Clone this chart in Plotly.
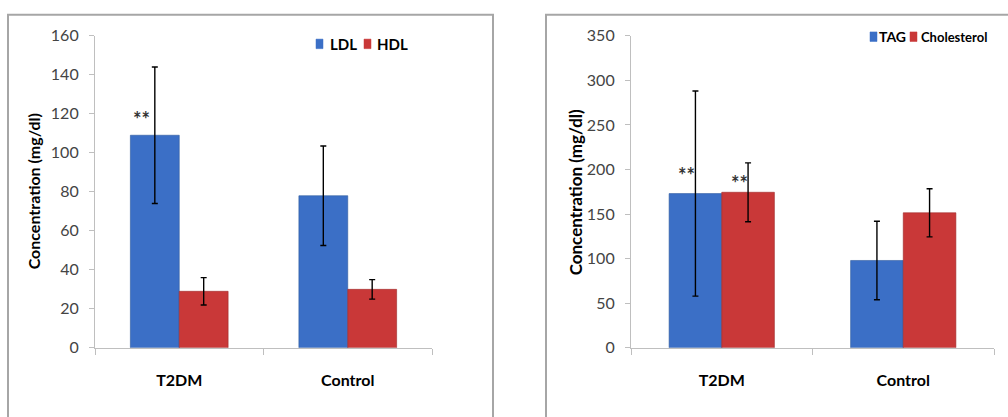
import plotly.graph_objects as go

# ---------------- data ----------------
groups = ["T2DM", "Control"]

ldl = [109, 78]
ldl_err = [35, 25.5]
hdl = [29, 30]
hdl_err = [7, 5]

tag = [173, 98]
tag_err = [115, 44]
chol = [174.5, 151.5]
chol_err = [33, 27]

left_ticks = [0, 20, 40, 60, 80, 100, 120, 140, 160]
right_ticks = [0, 50, 100, 150, 200, 250, 300, 350]

BLUE = "#3B6FC6"
RED = "#C93838"
BLUE_EDGE = "#2F5A9E"
RED_EDGE = "#9E2A2A"
W, H = 1008, 417
FONT = "Lato"

def px(x):
    return x / W

def py(y):
    return (H - y) / H

def err(vals):
    return dict(type="data", array=vals, color="black", thickness=1.4, width=3, visible=True)

fig = go.Figure()
fig.add_trace(go.Bar(x=groups, y=ldl, name="LDL", marker=dict(color=BLUE, line=dict(color=BLUE_EDGE, width=0.6)),
                     error_y=err(ldl_err), xaxis="x", yaxis="y"))
fig.add_trace(go.Bar(x=groups, y=hdl, name="HDL", marker=dict(color=RED, line=dict(color=RED_EDGE, width=0.6)),
                     error_y=err(hdl_err), xaxis="x", yaxis="y"))
fig.add_trace(go.Bar(x=groups, y=tag, name="TAG", marker=dict(color=BLUE, line=dict(color=BLUE_EDGE, width=0.6)),
                     error_y=err(tag_err), xaxis="x2", yaxis="y2"))
fig.add_trace(go.Bar(x=groups, y=chol, name="Cholesterol", marker=dict(color=RED, line=dict(color=RED_EDGE, width=0.6)),
                     error_y=err(chol_err), xaxis="x2", yaxis="y2"))

axis_line = "#BFBFBF"
xcommon = dict(type="category", showgrid=False, showline=True, linecolor=axis_line, linewidth=1.2,
               ticks="outside", tickson="boundaries", ticklen=6, tickcolor=axis_line,
               tickfont=dict(family=FONT, size=16, color="black", weight="bold"),
               ticklabelstandoff=18, zeroline=False, fixedrange=True)
ycommon = dict(showgrid=False, showline=True, linecolor=axis_line, linewidth=1.2, ticks="outside",
               ticklen=5, tickcolor=axis_line, tickfont=dict(family=FONT, size=16, color="#444444"),
               ticklabelstandoff=7, zeroline=False, fixedrange=True)

fig.update_layout(
    width=W, height=H, margin=dict(l=0, r=0, t=0, b=0),
    paper_bgcolor="white", plot_bgcolor="white",
    barmode="group", bargap=0.42, bargroupgap=0,
    showlegend=False,
    xaxis=dict(domain=[px(95), px(432)], anchor="y", **xcommon),
    yaxis=dict(domain=[py(354), py(27)], anchor="x", range=[0, 160], tickvals=left_ticks, **ycommon),
    xaxis2=dict(domain=[px(631), px(994)], anchor="y2", **xcommon),
    yaxis2=dict(domain=[py(354), py(27)], anchor="x2", range=[0, 350], tickvals=right_ticks, **ycommon),
)

# panel borders
fig.add_shape(type="rect", xref="paper", yref="paper", x0=px(8), x1=px(493), y0=-0.05, y1=py(5),
              line=dict(color="#A6A6A6", width=2), fillcolor="rgba(0,0,0,0)", layer="below")
fig.add_shape(type="rect", xref="paper", yref="paper", x0=px(546), x1=1.05, y0=-0.05, y1=py(5),
              line=dict(color="#A6A6A6", width=2), fillcolor="rgba(0,0,0,0)", layer="below")

# y-axis titles
fig.add_annotation(text="Concentration (mg/dl)", xref="paper", yref="paper", x=px(33), y=py(190),
                   xanchor="center", yanchor="middle", textangle=-90, showarrow=False,
                   font=dict(family=FONT, size=16, color="black", weight="bold"))
fig.add_annotation(text="Concentration (mg/dl)", xref="paper", yref="paper", x=px(575), y=py(191),
                   xanchor="center", yanchor="middle", textangle=-90, showarrow=False,
                   font=dict(family=FONT, size=17, color="black", weight="bold"))

# legends (manual, compact like the original)
def legend_item(x_sq, y_c, color, label, x_txt, size):
    fig.add_shape(type="rect", xref="paper", yref="paper", x0=px(x_sq), x1=px(x_sq + 7),
                  y0=py(y_c + 5), y1=py(y_c - 5), fillcolor=color, line=dict(color=color, width=0.5))
    fig.add_annotation(text=label, xref="paper", yref="paper", x=px(x_txt), y=py(y_c),
                       xanchor="left", yanchor="middle", showarrow=False,
                       font=dict(family=FONT, size=size, color="black", weight="bold"))

legend_item(316, 35.5, BLUE, "LDL", 328, 15)
legend_item(364, 35.5, RED, "HDL", 375, 15)
legend_item(870, 28, BLUE, "TAG", 877, 14)
legend_item(910, 28, RED, "Cholesterol", 919, 13)

# significance marks
star_font = dict(family=FONT, size=20, color="#333333", weight="bold")
fig.add_annotation(text="**", x="T2DM", y=ldl[0], xref="x", yref="y", xshift=-38, yshift=16,
                   showarrow=False, font=star_font)
fig.add_annotation(text="**", x="T2DM", y=tag[0], xref="x2", yref="y2", xshift=-35, yshift=19,
                   showarrow=False, font=star_font)
fig.add_annotation(text="**", x="T2DM", y=chol[0], xref="x2", yref="y2", xshift=18, yshift=9,
                   showarrow=False, font=star_font)

fig.write_html("out.html", config=dict(displayModeBar=False),
               post_script="document.body.style.margin='0';document.body.style.overflow='hidden';")
